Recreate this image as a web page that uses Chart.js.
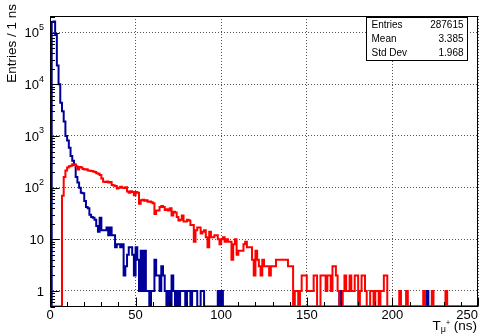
<!DOCTYPE html>
<html>
<head>
<meta charset="utf-8">
<script src="https://cdn.jsdelivr.net/npm/chart.js@4.4.1/dist/chart.umd.min.js"></script>
<style>
  html, body { margin: 0; padding: 0; background: #fff; }
</style>
</head>
<body>
<canvas id="hist" width="491" height="334"></canvas>
<script>
// counts per 1 ns bin, bins 0..249
const blueCounts = [
  0, 160000, 165000, 90000, 23000, 10000, 4400, 3000, 1900, 1000,
  820, 590, 410, 330, 280, 160, 125, 100, 80, 78,
  55, 42, 40, 30, 27, 26, 24, 18, 14, 26,
  15, 15, 15, 17, 12, 17, 12, 12, 7, 8,
  8, 7, 8, 2, 3, 5, 7, 7, 5, 2,
  7, 4, 1, 6, 1, 6, 1, 1, 0, 1,
  1, 4, 2, 2, 1, 3, 2, 1, 0, 1,
  0, 2, 1, 0, 1, 0, 1, 1, 1, 0,
  1, 1, 0, 1, 1, 1, 0, 0, 1, 1,
  0, 0, 0, 0, 0, 0, 0, 0, 1, 0,
  1, 0, 0, 0, 0, 0, 0, 0, 0, 0,
  0, 0, 0, 0, 0, 0, 0, 0, 0, 0,
  0, 0, 0, 0, 0, 0, 0, 0, 0, 0,
  0, 0, 0, 0, 0, 0, 0, 0, 0, 0,
  0, 0, 0, 0, 0, 0, 0, 0, 0, 0,
  0, 0, 0, 0, 0, 0, 0, 0, 0, 0,
  0, 0, 0, 0, 0, 0, 0, 0, 0, 1,
  0, 0, 0, 0, 0, 0, 0, 0, 0, 0,
  0, 0, 0, 0, 0, 0, 0, 0, 0, 0,
  0, 0, 0, 0, 0, 0, 0, 0, 0, 0,
  0, 0, 0, 0, 0, 0, 0, 0, 0, 0,
  0, 0, 0, 0, 0, 0, 0, 0, 0, 0,
  1, 0, 0, 0, 0, 0, 0, 0, 0, 0,
  0, 0, 0, 0, 0, 0, 0, 0, 0, 0,
  0, 0, 0, 0, 0, 0, 0, 0, 0, 0
];
const redCounts = [
  0, 0, 0, 0, 0, 0, 0, 70, 160, 215,
  245, 260, 265, 285, 275, 260, 225, 250, 245, 230,
  225, 228, 215, 212, 210, 205, 200, 190, 185, 175,
  150, 130, 128, 132, 125, 128, 112, 110, 108, 96,
  100, 104, 100, 98, 102, 84, 80, 85, 82, 71,
  82, 80, 49, 57, 58, 56, 57, 53, 54, 52,
  50, 31, 36, 36, 42, 44, 42, 37, 38, 36,
  40, 29, 34, 33, 27, 23, 24, 29, 22, 22,
  24, 23, 19, 19, 9, 15, 17, 17, 13, 14,
  15, 11, 7, 14, 11, 11, 12, 12, 10, 8,
  10, 11, 9, 10, 9, 9, 4, 8, 10, 5,
  6, 6, 6, 8, 9, 7, 7, 7, 4, 2,
  6, 4, 3, 2, 4, 3, 3, 3, 2, 3,
  3, 3, 4, 4, 4, 4, 4, 4, 4, 3,
  3, 3, 0, 1, 1, 0, 1, 2, 2, 2,
  1, 1, 1, 1, 2, 2, 0, 0, 2, 2,
  2, 1, 2, 2, 1, 3, 3, 2, 1, 0,
  0, 1, 2, 1, 1, 2, 1, 1, 2, 2,
  0, 1, 2, 2, 1, 0, 0, 1, 1, 0,
  1, 1, 0, 1, 1, 2, 2, 0, 0, 0,
  0, 0, 0, 0, 1, 0, 0, 0, 1, 0,
  0, 0, 0, 0, 0, 0, 0, 0, 1, 0,
  0, 0, 0, 1, 0, 0, 0, 0, 0, 0,
  0, 1, 0, 0, 0, 0, 0, 0, 0, 0,
  0, 0, 0, 0, 0, 0, 0, 0, 0, 0
];
const xTicks = [0, 50, 100, 150, 200, 250];
const yDecades = [1, 10, 100, 1000, 10000, 100000];
const statLabels = ['Entries', 'Mean', 'Std Dev'];
const statValues = ['287615', '3.385', '1.968'];

const Y_MIN = 0.5, Y_MAX = 2.1e5;
const FONT = '"Liberation Sans", Arial, Helvetica, sans-serif';

// histogram as step line; empty bins sit on the bottom of the frame like ROOT does
function steps(counts) {
  const pts = counts.map((c, i) => ({x: i, y: c > 0 ? c : Y_MIN}));
  pts.push({x: counts.length, y: pts[pts.length - 1].y});
  return pts;
}

const rootAxes = {
  id: 'rootAxes',
  afterDatasetsDraw(chart) {
    const {ctx, chartArea: a, scales: {x, y}} = chart;
    const L = Math.round(a.left) + 0.5, R = Math.round(a.right) - 0.5;
    const T = Math.round(a.top) + 0.5, B = Math.round(a.bottom) - 0.5;
    ctx.save();
    ctx.strokeStyle = '#000';
    ctx.lineWidth = 1;
    ctx.beginPath();
    for (let v = 0; v <= 250; v += 10) {
      const px = Math.round(x.getPixelForValue(v)) + 0.5;
      const len = v % 50 === 0 ? 9 : 4.5;
      ctx.moveTo(px, B); ctx.lineTo(px, B - len);
    }
    for (let d = -1; d <= 5; d++) {
      for (let m = 1; m <= 9; m++) {
        const v = m * Math.pow(10, d);
        if (v < Y_MIN || v > Y_MAX) continue;
        const py = Math.round(y.getPixelForValue(v)) + 0.5;
        const len = m === 1 ? 9 : 4.5;
        ctx.moveTo(L, py); ctx.lineTo(L + len, py);
      }
    }
    ctx.stroke();
    ctx.strokeRect(L, T, R - L, B - T);

    ctx.fillStyle = '#000';
    // x tick labels
    ctx.font = '13px ' + FONT;
    ctx.textBaseline = 'alphabetic';
    xTicks.forEach((v, i) => {
      const px = x.getPixelForValue(v);
      ctx.textAlign = i === xTicks.length - 1 ? 'right' : 'center';
      ctx.fillText(String(v), px, 319);
    });
    // y tick labels (10^n with raised exponent)
    yDecades.forEach(v => {
      const py = y.getPixelForValue(v);
      const e = Math.round(Math.log10(v));
      const right = 44;
      ctx.textBaseline = 'middle';
      ctx.textAlign = 'right';
      if (e < 2) {
        ctx.font = '13px ' + FONT;
        ctx.fillText(String(v), right, py + 1);
      } else {
        ctx.font = '9px ' + FONT;
        const ew = ctx.measureText(String(e)).width;
        ctx.fillText(String(e), right, py - 5);
        ctx.font = '13px ' + FONT;
        ctx.fillText('10', right - ew, py + 1);
      }
    });
    // y title
    ctx.save();
    ctx.translate(12.5, 4);
    ctx.rotate(-Math.PI / 2);
    ctx.font = '13.5px ' + FONT;
    ctx.textAlign = 'right';
    ctx.textBaseline = 'middle';
    ctx.fillText('Entries / 1 ns', 0, 0);
    ctx.restore();
    // x title: T_{mu^+} (ns)
    ctx.textAlign = 'left';
    ctx.textBaseline = 'alphabetic';
    ctx.font = '13.5px ' + FONT;
    const wT = ctx.measureText('T').width, wN = ctx.measureText(' (ns)').width;
    ctx.font = '9px ' + FONT;
    const wMu = ctx.measureText('\u03bc').width;
    ctx.font = '7px ' + FONT;
    const wP = ctx.measureText('+').width;
    let cx = 477 - (wT + wMu + wP + wN);
    const base = 330;
    ctx.font = '13.5px ' + FONT; ctx.fillText('T', cx, base); cx += wT;
    ctx.font = '9px ' + FONT; ctx.fillText('\u03bc', cx, base + 2); cx += wMu;
    ctx.font = '7px ' + FONT; ctx.fillText('+', cx, base - 5); cx += wP;
    ctx.font = '13.5px ' + FONT; ctx.fillText(' (ns)', cx, base);
    ctx.restore();
  },
  afterDraw(chart) {
    const {ctx} = chart;
    const bx = 366.5, by = 17.5, bw = 101, bh = 43;
    ctx.save();
    ctx.fillStyle = '#fff';
    ctx.fillRect(bx, by, bw, bh);
    ctx.strokeStyle = '#000';
    ctx.lineWidth = 1;
    ctx.strokeRect(bx, by, bw, bh);
    ctx.fillStyle = '#000';
    ctx.font = '10px ' + FONT;
    ctx.textBaseline = 'middle';
    statLabels.forEach((lab, i) => {
      const cy = by + 7.5 + i * 14.2;
      ctx.textAlign = 'left';
      ctx.fillText(lab, bx + 5, cy);
      ctx.textAlign = 'right';
      ctx.fillText(statValues[i], bx + bw - 4, cy);
    });
    ctx.restore();
  }
};

const gridOpts = {color: '#555', lineWidth: 1, drawTicks: false};
const borderOpts = {display: false, dash: [1, 2]};

new Chart(document.getElementById('hist'), {
  type: 'line',
  data: {
    datasets: [
      {
        label: 'mu+',
        data: steps(redCounts),
        borderColor: '#ff0000',
        borderWidth: 2,
        stepped: true,
        pointRadius: 0,
        fill: false,
        order: 0
      },
      {
        label: 'prompt',
        data: steps(blueCounts),
        borderColor: '#000099',
        borderWidth: 2,
        stepped: true,
        pointRadius: 0,
        fill: false,
        order: 1
      }
    ]
  },
  options: {
    responsive: false,
    animation: false,
    events: [],
    layout: {padding: {left: 50, right: 13, top: 16, bottom: 27.5}, autoPadding: false},
    plugins: {legend: {display: false}, tooltip: {enabled: false}},
    scales: {
      x: {
        type: 'linear', min: 0, max: 250,
        ticks: {display: false, stepSize: 50},
        grid: gridOpts,
        border: borderOpts
      },
      y: {
        type: 'logarithmic', min: Y_MIN, max: Y_MAX, bounds: 'data',
        afterBuildTicks: s => { s.ticks = yDecades.map(v => ({value: v})); },
        ticks: {display: false},
        grid: gridOpts,
        border: borderOpts
      }
    }
  },
  plugins: [rootAxes]
});
</script>
</body>
</html>
